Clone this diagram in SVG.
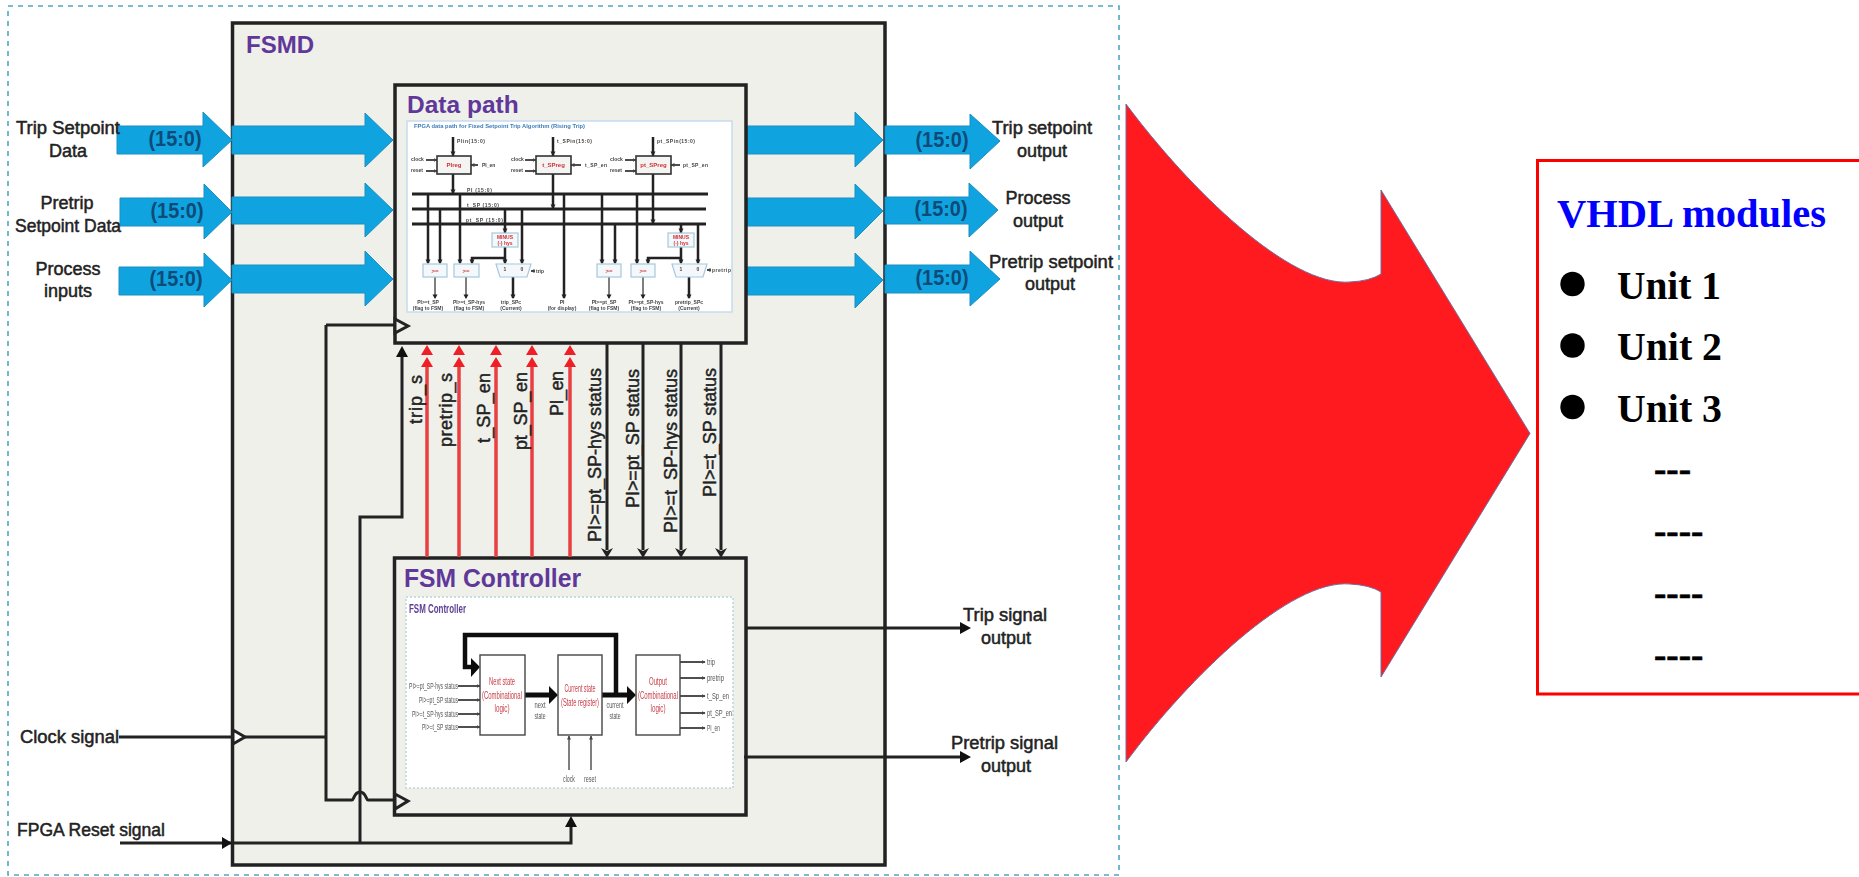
<svg xmlns="http://www.w3.org/2000/svg" width="1859" height="877" viewBox="0 0 1859 877">
<style>
text{font-family:"Liberation Sans",Arial,sans-serif}
.lb{font-size:18px;fill:#222;stroke:#222;stroke-width:.5;text-anchor:middle}
.lr{font-size:18px;fill:#222;stroke:#222;stroke-width:.5}
.bus{font-size:22px;font-weight:bold;fill:#0f4a78;text-anchor:middle}
.ttl{font-weight:bold;fill:#60389a}
.blue{fill:#0fa3e0;stroke:#1d8fc0;stroke-width:1}
.w{fill:none;stroke:#222;stroke-width:3;stroke-linejoin:miter}
.box{fill:#eff0ea;stroke:#222;stroke-width:3.5}
.red{fill:none;stroke:#ea3f42;stroke-width:3.5}
.clk{fill:#fff;stroke:#222;stroke-width:3}
.clk2{fill:#eff0ea;stroke:#222;stroke-width:3}
.t1{stroke:#222;stroke-width:1.6;fill:none}
.t2{stroke:#222;stroke-width:2.5;fill:none}
.t3{stroke:#555;stroke-width:1.5;fill:none}
.bar{stroke:#222;stroke-width:3;fill:none}
.s{font-size:5px;font-weight:bold;fill:#444;text-anchor:middle}
.sl{font-size:5px;font-weight:bold;fill:#444}
.rs{font-size:6px;font-weight:bold;fill:#d03038;text-anchor:middle}
.rx{font-size:5px;font-weight:bold;fill:#d03038;text-anchor:middle}
.fb{fill:#f4f8fa;stroke:#a4cadb;stroke-width:1.2}
.reg{fill:#f4f4f2;stroke:#333;stroke-width:1.6}
.sm{fill:#fff;stroke:#444;stroke-width:1.4}
.rf{font-size:11px;fill:#c8404a;text-anchor:middle}
.g9{font-size:9px;fill:#555}
.g9e{font-size:9px;fill:#555;text-anchor:end}
.g9m{font-size:9px;fill:#555;text-anchor:middle}
.tm{font-family:"Liberation Serif","Times New Roman",serif;font-weight:bold;fill:#000}
.rot{font-size:18px;fill:#222;stroke:#222;stroke-width:.45}
</style>
<defs>
<marker id="g" markerUnits="userSpaceOnUse" markerWidth="4" markerHeight="4" refX="3.5" refY="2" orient="auto"><path d="M0 0L4 2L0 4z" fill="#444"/></marker>
<g id="rh"><path d="M0 0L6 10H-6zM0 12L6 22H-6z" fill="#ee1f26"/></g>
<path id="dh" d="M0 0L-6 -10L0 -7L6 -10z" fill="#222"/>
<path id="st" d="M0 0L-2.500 -4.500H2.500z" fill="#222"/>
<filter id="soft" x="-2%" y="-2%" width="104%" height="104%"><feGaussianBlur stdDeviation="0.45"/></filter>
</defs>
<rect width="1859" height="877" fill="#fff"/>
<rect id="frame" x="8" y="6" width="1111" height="869" fill="none" stroke="#4fa9bd" stroke-width="1.6" stroke-dasharray="5 5"/>

<g id="fsmd">
<rect class="box" x="232.500" y="23" width="652.500" height="842"/>
<text class="ttl" x="246" y="53" font-size="24">FSMD</text>
</g>

<g id="buses">
<path class="blue" d="M117 126H203V112L232 140L203 167V154H117z"/>
<path class="blue" d="M232 126H365V113L393 140L365 167V154H232z"/>
<path class="blue" d="M120 198H204V184L232 212L204 239V226H120z"/>
<path class="blue" d="M232 197H365V183L393 210L365 237V224H232z"/>
<path class="blue" d="M119 267H204V253L232 280L204 307V295H119z"/>
<path class="blue" d="M232 265H365V251L393 279L365 306V293H232z"/>
<path class="blue" d="M746 126H855V112L883 140L855 167V154H746z"/>
<path class="blue" d="M885 126H970V114L1000 141L970 169V154H885z"/>
<path class="blue" d="M746 198H855V184L883 211L855 239V226H746z"/>
<path class="blue" d="M885 197H969V183L998 210L969 237V224H885z"/>
<path class="blue" d="M746 267H855V253L883 280L855 308V295H746z"/>
<path class="blue" d="M885 265H970V251L1000 279L970 306V293H885z"/>
<text class="bus" x="175" y="146" textLength="53" lengthAdjust="spacingAndGlyphs">(15:0)</text>
<text class="bus" x="177" y="218" textLength="53" lengthAdjust="spacingAndGlyphs">(15:0)</text>
<text class="bus" x="176" y="286" textLength="53" lengthAdjust="spacingAndGlyphs">(15:0)</text>
<text class="bus" x="942" y="147" textLength="53" lengthAdjust="spacingAndGlyphs">(15:0)</text>
<text class="bus" x="941" y="216" textLength="53" lengthAdjust="spacingAndGlyphs">(15:0)</text>
<text class="bus" x="942" y="285" textLength="53" lengthAdjust="spacingAndGlyphs">(15:0)</text>
</g>

<g id="datapath">
<rect class="box" x="395" y="85" width="351" height="258"/>
<text class="ttl" x="407" y="113" font-size="24.500">Data path</text>
<g id="datapath-inner" filter="url(#soft)">
<rect x="407" y="121" width="325" height="191" fill="#fff" stroke="#c6dcee" stroke-width="1.5"/>
<text x="414" y="128" font-size="5" font-weight="bold" fill="#3d7cba" textLength="171" lengthAdjust="spacingAndGlyphs">FPGA  data path for Fixed Setpoint Trip Algorithm (Rising Trip)</text>
<path class="bar" d="M412 194H708M412 209H706M412 224H706"/>
<path class="t2" d="M453 137V156M553 137V156M653 137V156M453 174V194M553 174V209M653 174V224M428 194V263M440 209V263M460 194V263M505 209V233M522 209V263M505 247V263M505 258H472V263M564 194V298M602 194V263M615 224V263M637 194V263M681 224V233M698 224V263M681 247V263M681 258H648V263M513 277V298M689 277V298"/>
<path class="t3" d="M435 277V298M466 277V298M609 277V298M643 277V298"/>
<use href="#st" x="453" y="156"/><use href="#st" x="553" y="156"/><use href="#st" x="653" y="156"/><use href="#st" x="453" y="194"/><use href="#st" x="553" y="209"/><use href="#st" x="653" y="224"/><use href="#st" x="428" y="264"/><use href="#st" x="440" y="264"/><use href="#st" x="460" y="264"/><use href="#st" x="472" y="264"/><use href="#st" x="505" y="233"/><use href="#st" x="505" y="264"/><use href="#st" x="522" y="264"/><use href="#st" x="602" y="264"/><use href="#st" x="615" y="264"/><use href="#st" x="637" y="264"/><use href="#st" x="648" y="264"/><use href="#st" x="681" y="233"/><use href="#st" x="681" y="264"/><use href="#st" x="698" y="264"/><use href="#st" x="564" y="299"/><use href="#st" x="513" y="299"/><use href="#st" x="689" y="299"/><use href="#st" x="435" y="299"/><use href="#st" x="466" y="299"/><use href="#st" x="609" y="299"/><use href="#st" x="643" y="299"/>
<path class="t1" marker-end="url(#g)" d="M426 160H437"/>
<path class="t1" marker-end="url(#g)" d="M426 171H437"/>
<path class="t1" marker-end="url(#g)" d="M525 160H536"/>
<path class="t1" marker-end="url(#g)" d="M525 171H536"/>
<path class="t1" marker-end="url(#g)" d="M625 160H636"/>
<path class="t1" marker-end="url(#g)" d="M625 171H636"/>
<path class="t1" marker-end="url(#g)" d="M478 165H471"/>
<path class="t1" marker-end="url(#g)" d="M581 165H571"/>
<path class="t1" marker-end="url(#g)" d="M680 165H671"/>
<path class="t1" marker-end="url(#g)" d="M535 271H531"/>
<path class="t1" marker-end="url(#g)" d="M711 270H707"/>
<rect class="reg" x="437" y="156" width="34" height="18"/>
<rect class="reg" x="536" y="156" width="35" height="18"/>
<rect class="reg" x="636" y="156" width="35" height="18"/>
<text class="rs" x="454" y="167">PIreg</text>
<text class="rs" x="553.500" y="167">t_SPreg</text>
<text class="rs" x="653.500" y="167">pt_SPreg</text>
<text class="sl" x="457" y="143" textLength="28">PIin(15:0)</text>
<text class="sl" x="557" y="143" textLength="35">t_SPin(15:0)</text>
<text class="sl" x="657" y="143" textLength="38">pt_SPin(15:0)</text>
<text class="sl" x="411" y="161">clock</text><text class="sl" x="411" y="172">reset</text>
<text class="sl" x="511" y="161">clock</text><text class="sl" x="511" y="172">reset</text>
<text class="sl" x="610" y="161">clock</text><text class="sl" x="610" y="172">reset</text>
<text class="sl" x="482" y="167">PI_en</text>
<text class="sl" x="585" y="167" textLength="22">t_SP_en</text>
<text class="sl" x="683" y="167" textLength="25">pt_SP_en</text>
<text class="sl" x="467" y="192" textLength="25">PI (15:0)</text>
<text class="sl" x="467" y="207" textLength="32">t_SP (15:0)</text>
<text class="sl" x="466" y="222" textLength="37">pt_SP (15:0)</text>
<rect class="fb" x="423" y="264" width="24" height="13"/>
<rect class="fb" x="454" y="264" width="25" height="13"/>
<rect class="fb" x="597" y="264" width="24" height="13"/>
<rect class="fb" x="631" y="264" width="24" height="13"/>
<text class="rs" x="435" y="273">&gt;=</text><text class="rs" x="466" y="273">&gt;=</text><text class="rs" x="609" y="273">&gt;=</text><text class="rs" x="643" y="273">&gt;=</text>
<rect class="fb" x="492" y="233" width="26" height="14"/>
<rect class="fb" x="668" y="233" width="26" height="14"/>
<text class="rx" x="505" y="239">MINUS</text><text class="rx" x="505" y="245">(-) hys</text>
<text class="rx" x="681" y="239">MINUS</text><text class="rx" x="681" y="245">(-) hys</text>
<path class="fb" d="M496 264H531L527 277H500z"/>
<path class="fb" d="M672 264H707L703 277H676z"/>
<text class="s" x="505" y="271">1</text><text class="s" x="522" y="271">0</text>
<text class="s" x="681" y="271">1</text><text class="s" x="698" y="271">0</text>
<text class="sl" x="536" y="273">trip</text>
<text class="sl" x="712" y="272" textLength="19">pretrip</text>
<text class="s" x="428" y="304">PI&gt;=t_SP</text><text class="s" x="428" y="310">(flag to FSM)</text>
<text class="s" x="469" y="304">PI&gt;=t_SP-hys</text><text class="s" x="469" y="310">(flag to FSM)</text>
<text class="s" x="511" y="304">trip_SPc</text><text class="s" x="511" y="310">(Current)</text>
<text class="s" x="562" y="304">PI</text><text class="s" x="562" y="310">(for display)</text>
<text class="s" x="604" y="304">PI&gt;=pt_SP</text><text class="s" x="604" y="310">(flag to FSM)</text>
<text class="s" x="646" y="304">PI&gt;=pt_SP-hys</text><text class="s" x="646" y="310">(flag to FSM)</text>
<text class="s" x="689" y="304">pretrip_SPc</text><text class="s" x="689" y="310">(Current)</text>
</g>
</g>

<g id="fsm">
<rect class="box" x="394.500" y="558" width="351.500" height="257"/>
<text class="ttl" x="404" y="587" font-size="26" textLength="177" lengthAdjust="spacingAndGlyphs">FSM Controller</text>
<g id="fsm-inner" filter="url(#soft)">
<rect x="406" y="597" width="327" height="191" fill="#fff" stroke="#b6d8dc" stroke-width="1.5" stroke-dasharray="2 2"/>
<text x="409" y="613" font-size="12" font-weight="bold" fill="#5d3f95" textLength="57" lengthAdjust="spacingAndGlyphs">FSM Controller</text>
<path d="M616 695V635H465V667H472" fill="none" stroke="#111" stroke-width="4.500"/>
<path d="M525 695H550M602 695H628" fill="none" stroke="#111" stroke-width="5"/>
<path d="M471 658L480 667L471 677zM549 686L558 695L549 704zM627 686L636 695L627 704z" fill="#111"/>
<path class="t1" marker-end="url(#g)" d="M458 686H480"/>
<path class="t1" marker-end="url(#g)" d="M458 700H480"/>
<path class="t1" marker-end="url(#g)" d="M458 714H480"/>
<path class="t1" marker-end="url(#g)" d="M458 727H480"/>
<path class="t1" marker-end="url(#g)" d="M680 662H705"/>
<path class="t1" marker-end="url(#g)" d="M680 678H705"/>
<path class="t1" marker-end="url(#g)" d="M680 696H705"/>
<path class="t1" marker-end="url(#g)" d="M680 713H705"/>
<path class="t1" marker-end="url(#g)" d="M680 728H705"/>
<path class="t3" marker-end="url(#g)" d="M569 770V736"/>
<path class="t3" marker-end="url(#g)" d="M591 770V736"/>
<rect class="sm" x="480" y="655" width="45" height="80"/>
<rect class="sm" x="558" y="655" width="44" height="80"/>
<rect class="sm" x="636" y="655" width="44" height="80"/>
<text class="rf" x="502" y="685" textLength="26" lengthAdjust="spacingAndGlyphs">Next state</text>
<text class="rf" x="502" y="699" textLength="40" lengthAdjust="spacingAndGlyphs">(Combinational</text>
<text class="rf" x="502" y="712" textLength="15" lengthAdjust="spacingAndGlyphs">logic)</text>
<text class="rf" x="580" y="692" textLength="31" lengthAdjust="spacingAndGlyphs">Current state</text>
<text class="rf" x="580" y="706" textLength="38" lengthAdjust="spacingAndGlyphs">(State register)</text>
<text class="rf" x="658" y="685" textLength="18" lengthAdjust="spacingAndGlyphs">Output</text>
<text class="rf" x="658" y="699" textLength="40" lengthAdjust="spacingAndGlyphs">(Combinational</text>
<text class="rf" x="658" y="712" textLength="15" lengthAdjust="spacingAndGlyphs">logic)</text>
<text class="g9e" x="458" y="689" textLength="49" lengthAdjust="spacingAndGlyphs">PI&gt;=pt_SP-hys status</text>
<text class="g9e" x="458" y="703" textLength="39" lengthAdjust="spacingAndGlyphs">PI&gt;=pt_SP status</text>
<text class="g9e" x="458" y="717" textLength="46" lengthAdjust="spacingAndGlyphs">PI&gt;=t_SP-hys status</text>
<text class="g9e" x="458" y="730" textLength="36" lengthAdjust="spacingAndGlyphs">PI&gt;=t_SP status</text>
<text class="g9" x="707" y="665" textLength="8" lengthAdjust="spacingAndGlyphs">trip</text>
<text class="g9" x="707" y="681" textLength="17" lengthAdjust="spacingAndGlyphs">pretrip</text>
<text class="g9" x="707" y="699" textLength="22" lengthAdjust="spacingAndGlyphs">t_Sp_en</text>
<text class="g9" x="707" y="716" textLength="25" lengthAdjust="spacingAndGlyphs">pt_SP_en</text>
<text class="g9" x="707" y="731" textLength="13" lengthAdjust="spacingAndGlyphs">PI_en</text>
<text class="g9m" x="569" y="782" textLength="12" lengthAdjust="spacingAndGlyphs">clock</text>
<text class="g9m" x="590" y="782" textLength="12" lengthAdjust="spacingAndGlyphs">reset</text>
<text class="g9m" x="540" y="708" textLength="11" lengthAdjust="spacingAndGlyphs">next</text>
<text class="g9m" x="540" y="719" textLength="11" lengthAdjust="spacingAndGlyphs">state</text>
<text class="g9m" x="615" y="708" textLength="17" lengthAdjust="spacingAndGlyphs">current</text>
<text class="g9m" x="615" y="719" textLength="11" lengthAdjust="spacingAndGlyphs">state</text>
</g>
</g>

<g id="connectors">
<path class="w" d="M119 737H232M245 737H326M326 325V800H352C354 800 354 792 360 792C366 792 366 800 368 800H394M326 325H394"/>
<path class="w" d="M120 843H571V826M360 843V517H402V355"/>
<path class="w" d="M746 628H962M744 757H962"/>
<path d="M960 622L971 628L960 634zM960 751L971 757L960 763zM222 837L232 843L222 849zM565 827L571 816L577 827zM396 357L402 346L408 357z" fill="#111"/>
<path class="clk" d="M233 730L245 737L233 744z"/>
<path class="clk2" d="M395 319L408 326L395 333z"/>
<path class="clk2" d="M395 794L408 801L395 809z"/>
<path class="red" d="M427 557V367M459 557V367M496 557V367M532 557V367M570 557V367"/>
<use href="#rh" x="427" y="345"/><use href="#rh" x="459" y="345"/><use href="#rh" x="496" y="345"/><use href="#rh" x="532" y="345"/><use href="#rh" x="570" y="345"/>
<path class="w" d="M607 343V550M643 343V550M681 343V550M721 343V550"/>
<use href="#dh" x="607" y="558"/><use href="#dh" x="643" y="558"/><use href="#dh" x="681" y="558"/><use href="#dh" x="721" y="558"/>
</g>

<g id="signal-labels">
<text class="rot" transform="translate(422 424) rotate(-90)" textLength="49">trip_s</text>
<text class="rot" transform="translate(452 447) rotate(-90)" textLength="74">pretrip_s</text>
<text class="rot" transform="translate(490 443) rotate(-90)" textLength="70">t_SP_en</text>
<text class="rot" transform="translate(527 450) rotate(-90)" textLength="78">pt_SP_en</text>
<text class="rot" transform="translate(563 416) rotate(-90)" textLength="45">PI_en</text>
<text class="rot" transform="translate(601 542) rotate(-90)" textLength="174">PI&gt;=pt_SP-hys status</text>
<text class="rot" transform="translate(639 508) rotate(-90)" textLength="139">PI&gt;=pt_SP status</text>
<text class="rot" transform="translate(677 533) rotate(-90)" textLength="164">PI&gt;=t_SP-hys status</text>
<text class="rot" transform="translate(716 497) rotate(-90)" textLength="129">PI&gt;=t_SP status</text>
</g>

<g id="io-labels">
<text class="lr" x="16" y="134" textLength="104" lengthAdjust="spacingAndGlyphs">Trip Setpoint</text>
<text class="lb" x="68" y="157">Data</text>
<text class="lb" x="67" y="209">Pretrip</text>
<text class="lr" x="15" y="232" textLength="106" lengthAdjust="spacingAndGlyphs">Setpoint Data</text>
<text class="lb" x="68" y="275">Process</text>
<text class="lb" x="68" y="297">inputs</text>
<text class="lr" x="20" y="743" textLength="99" lengthAdjust="spacingAndGlyphs">Clock signal</text>
<text class="lr" x="17" y="836" textLength="148" lengthAdjust="spacingAndGlyphs">FPGA Reset signal</text>
<text class="lr" x="992" y="134" textLength="100" lengthAdjust="spacingAndGlyphs">Trip setpoint</text>
<text class="lb" x="1042" y="157">output</text>
<text class="lb" x="1038" y="204">Process</text>
<text class="lb" x="1038" y="227">output</text>
<text class="lr" x="989" y="268" textLength="124" lengthAdjust="spacingAndGlyphs">Pretrip setpoint</text>
<text class="lb" x="1050" y="290">output</text>
<text class="lr" x="963" y="621" textLength="84" lengthAdjust="spacingAndGlyphs">Trip signal</text>
<text class="lb" x="1006" y="644">output</text>
<text class="lr" x="951" y="749" textLength="107" lengthAdjust="spacingAndGlyphs">Pretrip signal</text>
<text class="lb" x="1006" y="772">output</text>
</g>

<g id="big-arrow">
<path d="M1126 104C1190 190 1290 287 1350 282Q1370 281 1381 274V190L1530 433.500L1381 677V592Q1370 585 1350 584C1290 579 1190 676 1126 762z" fill="#ff1a1f" stroke="#6f6f9e" stroke-width="1"/>
</g>

<g id="vhdl-modules">
<path d="M1859 160.500H1537.500V694H1859" fill="none" stroke="#f00" stroke-width="3"/>
<text class="tm" x="1557" y="227" font-size="41" style="fill:#00f" textLength="269" lengthAdjust="spacingAndGlyphs">VHDL modules</text>
<circle cx="1572.500" cy="284" r="12.200"/><circle cx="1572.500" cy="345.500" r="12.200"/><circle cx="1572.500" cy="407" r="12.200"/>
<text class="tm" x="1617" y="298.500" font-size="40" textLength="104" lengthAdjust="spacingAndGlyphs">Unit 1</text>
<text class="tm" x="1617" y="360" font-size="40" textLength="105" lengthAdjust="spacingAndGlyphs">Unit 2</text>
<text class="tm" x="1617" y="422" font-size="40" textLength="105" lengthAdjust="spacingAndGlyphs">Unit 3</text>
<text class="tm" x="1654" y="481" font-size="37" stroke="#000" stroke-width=".6">---</text>
<text class="tm" x="1654" y="543" font-size="37" stroke="#000" stroke-width=".6">----</text>
<text class="tm" x="1654" y="605" font-size="37" stroke="#000" stroke-width=".6">----</text>
<text class="tm" x="1654" y="667" font-size="37" stroke="#000" stroke-width=".6">----</text>
</g>
</svg>
